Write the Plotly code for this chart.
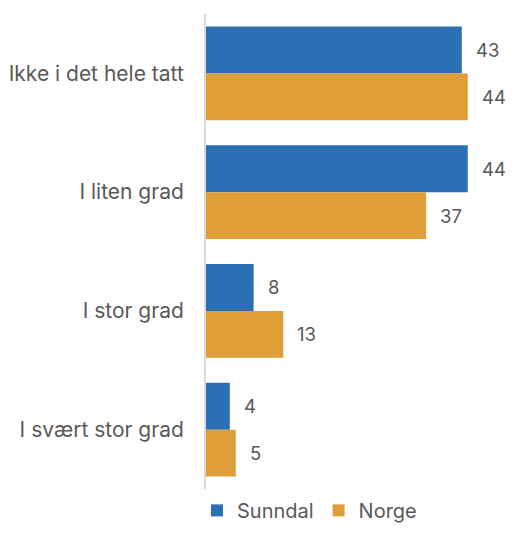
import plotly.graph_objects as go

categories = ["Ikke i det hele tatt", "I liten grad", "I stor grad", "I svært stor grad"]
sunndal = [43, 44, 8, 4]
norge = [44, 37, 13, 5]

blue = "#2B6FB4"
orange = "#DF9E37"
text_color = "#595959"
font_family = "Inter, Roboto, sans-serif"

fig = go.Figure()
fig.add_trace(go.Bar(y=categories, x=sunndal, name="Sunndal", orientation="h",
                     marker=dict(color=blue, line=dict(width=0))))
fig.add_trace(go.Bar(y=categories, x=norge, name="Norge", orientation="h",
                     marker=dict(color=orange, line=dict(width=0))))

# value labels to the right of each bar
for vals, shift in [(sunndal, 23.5), (norge, -23.5)]:
    for cat, v in zip(categories, vals):
        fig.add_annotation(x=v, y=cat, text=str(v), showarrow=False,
                           xanchor="left", xshift=12, yshift=shift,
                           font=dict(size=18.5, color=text_color, family=font_family))

# page body has an 8px margin; keep the figure inside the window so no scrollbars appear
fig.update_layout(
    width=499, height=518,
    margin=dict(l=198, r=0, t=6, b=37, autoexpand=False),
    plot_bgcolor="white", paper_bgcolor="white",
    barmode="group", bargap=0.21, bargroupgap=0,
    font=dict(family=font_family, color=text_color, size=20),
    legend=dict(orientation="h", x=-0.03, xanchor="left", y=-0.045, yanchor="middle",
                font=dict(size=20, color=text_color), itemwidth=30),
    showlegend=True,
)
fig.update_xaxes(range=[0, 50.6], showgrid=False, zeroline=False, showticklabels=False)
fig.update_yaxes(autorange="reversed", showline=True, linecolor="#D9D9D9", linewidth=2,
                 showgrid=False, ticks="", ticklabelstandoff=16,
                 tickfont=dict(size=21, color=text_color))

fig.write_html("out.html")
